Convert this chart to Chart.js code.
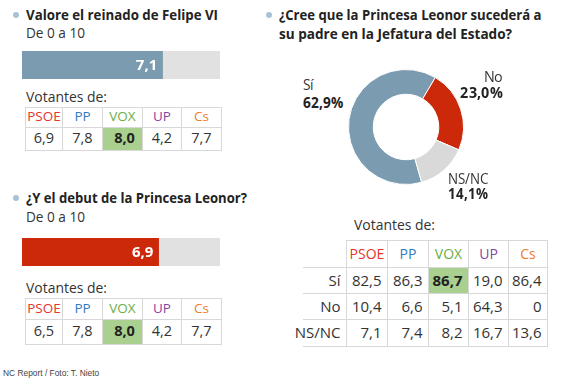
<!DOCTYPE html>
<html><head><meta charset="utf-8">
<script src="https://cdn.jsdelivr.net/npm/chart.js@4.4.0/dist/chart.umd.min.js"></script>
<style>
@font-face{font-family:"OSLabel";src:local("Open Sans"),local("OpenSans-Regular"),local("Open Sans Regular");font-weight:400;ascent-override:78%;descent-override:18%;line-gap-override:0%;}
@font-face{font-family:"OSLabel";src:local("Open Sans Bold"),local("OpenSans-Bold");font-weight:700;ascent-override:78%;descent-override:18%;line-gap-override:0%;}
html,body{margin:0;padding:0;background:#fff;}
#root{position:relative;width:580px;height:381px;overflow:hidden;font-family:"Open Sans",sans-serif;color:#222;}
.t{position:absolute;white-space:nowrap;}
.t b{color:#222;}
.lbl{font-family:"OSLabel","Open Sans",sans-serif;}
canvas{position:absolute;}
</style></head><body><div id="root"></div>
<script>
// ---------- DATA ----------
const ratingTitles = ['Valore el reinado de Felipe VI', '¿Y el debut de la Princesa Leonor?'];
const ratingSubtitle = 'De 0 a 10';
const ratingValues = [7.1, 6.9];
const ratingMax = 10;
const parties = ['PSOE', 'PP', 'VOX', 'UP', 'Cs'];
const felipeByParty = [6.9, 7.8, 8.0, 4.2, 7.7];
const leonorByParty = [6.5, 7.8, 8.0, 4.2, 7.7];
const successionTitle = ['¿Cree que la Princesa Leonor sucederá a', 'su padre en la Jefatura del Estado?'];
const successionCategories = ['Sí', 'No', 'NS/NC'];
const successionValues = [62.9, 23.0, 14.1];
const successionSi = [82.5, 86.3, 86.7, 19.0, 86.4];
const successionNo = [10.4, 6.6, 5.1, 64.3, 0];
const successionNsnc = [7.1, 7.4, 8.2, 16.7, 13.6];
const votersLabel = 'Votantes de:';
const sourceText = 'NC Report / Foto: T. Nieto';

// ---------- STYLES ----------
const partyColors = ['#e4352c', '#2f7bc2', '#6cae45', '#85459f', '#f07c2c'];
const ratingColors = ['#7b9bb0', '#cc290b'];
const donutColors = ['#7b9bb0', '#cc290b', '#d9d9d9'];
const trackColor = '#e1e1e1';
const highlightColor = '#a9d08e';
const gridColor = '#d8d8d8';
const bulletColor = '#a9c2d3';

const root = document.getElementById('root');
const fmt = v => v === 0 ? '0' : v.toFixed(1).replace('.', ',');
const pct = v => v.toFixed(1).replace('.', ',') + '%';

function place(el, x, w, o) {
  const fw = o.w || w;
  const k = fw / w;
  const a = o.align || 'left';
  const left = a === 'left' ? x : a === 'right' ? x - fw : x - fw / 2;
  el.style.left = left + 'px';
  el.style.transformOrigin = '0 50%';
  if (Math.abs(k - 1) > 0.001) el.style.transform = 'scaleX(' + k + ')';
}
function T(text, x, cy, o = {}) {
  const el = document.createElement('div');
  el.className = 't';
  el.textContent = text;
  const size = o.size || 15;
  el.style.fontSize = size + 'px';
  el.style.lineHeight = size + 'px';
  el.style.fontWeight = o.bold ? '700' : '400';
  el.style.color = o.color || '#333';
  if (o.family) el.style.fontFamily = o.family;
  el.style.top = (cy - size * (o.cf || 0.53)) + 'px';
  el.style.left = '0px';
  root.appendChild(el);
  place(el, x, el.getBoundingClientRect().width, o);
  return el;
}
// two-line label (regular name + bold value), compact line metrics
function T2(name, value, x, cy1, lh, o = {}) {
  const el = document.createElement('div');
  el.className = 't lbl';
  const size = o.size || 15;
  el.style.fontSize = size + 'px';
  el.style.lineHeight = lh + 'px';
  el.style.color = '#333';
  el.style.textAlign = o.align === 'right' ? 'right' : 'left';
  el.appendChild(document.createTextNode(name));
  el.appendChild(document.createElement('br'));
  const b = document.createElement('b');
  b.textContent = value;
  el.appendChild(b);
  el.style.top = (cy1 - lh / 2 + 0.057 * size) + 'px';
  el.style.left = '0px';
  root.appendChild(el);
  place(el, x, el.getBoundingClientRect().width, o);
  return el;
}
function box(x0, y0, x1, y1, o = {}) {
  const d = document.createElement('div');
  d.style.position = 'absolute';
  d.style.left = x0 + 'px'; d.style.top = y0 + 'px';
  d.style.width = (x1 - x0 + 1) + 'px'; d.style.height = (y1 - y0 + 1) + 'px';
  d.style.boxSizing = 'border-box';
  if (o.sides) {
    o.sides.forEach(s => d.style['border' + s] = '1px solid ' + gridColor);
  } else {
    d.style.border = '1px solid ' + gridColor;
  }
  if (o.bg) d.style.background = o.bg;
  root.appendChild(d);
}
function bullet(x, y) {
  const d = document.createElement('div');
  d.style.cssText = 'position:absolute;width:6px;height:6px;border-radius:50%;background:' + bulletColor + ';left:' + (x - 3) + 'px;top:' + (y - 3) + 'px';
  root.appendChild(d);
}
function canvasAt(x, y, w, h) {
  const c = document.createElement('canvas');
  c.width = w; c.height = h;
  c.style.left = x + 'px'; c.style.top = y + 'px';
  c.style.width = w + 'px'; c.style.height = h + 'px';
  root.appendChild(c);
  return c;
}

// ---------- BAR CHARTS ----------
const trackPlugin = {
  id: 'track',
  beforeDatasetsDraw(chart) {
    const a = chart.chartArea, ctx = chart.ctx;
    ctx.save(); ctx.fillStyle = trackColor;
    ctx.fillRect(a.left, a.top, a.right - a.left, a.bottom - a.top);
    ctx.restore();
  }
};
const valueLabelPlugin = {
  id: 'valueLabel',
  afterDatasetsDraw(chart) {
    const ctx = chart.ctx;
    const bar = chart.getDatasetMeta(0).data[0];
    const v = chart.data.datasets[0].data[0];
    ctx.save();
    ctx.fillStyle = '#fff';
    ctx.font = 'bold 15px "Open Sans"';
    ctx.textAlign = 'center';
    ctx.textBaseline = 'middle';
    ctx.fillText(fmt(v), bar.x - 16, bar.y + 1);
    ctx.restore();
  }
};
function ratingBar(x, y, w, h, value, color) {
  const c = canvasAt(x, y, w, h);
  new Chart(c, {
    type: 'bar',
    data: { labels: [''], datasets: [{ data: [value], backgroundColor: color, borderWidth: 0, barPercentage: 1, categoryPercentage: 1 }] },
    options: {
      indexAxis: 'y', responsive: false, animation: false, events: [],
      layout: { padding: 0 },
      scales: { x: { display: false, min: 0, max: ratingMax }, y: { display: false } },
      plugins: { legend: { display: false }, tooltip: { enabled: false } }
    },
    plugins: [trackPlugin, valueLabelPlugin]
  });
}

function partyTable(colX, rowY, values) {
  const hi = values.indexOf(Math.max(...values));
  parties.forEach((p, i) => {
    box(colX[i], rowY[0], colX[i + 1], rowY[1]);
    box(colX[i], rowY[1], colX[i + 1], rowY[2], i === hi ? { bg: highlightColor } : {});
    const cx = (colX[i] + colX[i + 1]) / 2;
    T(p, cx + 0.5, (rowY[0] + rowY[1]) / 2 + 0.5, { size: 13.5, color: partyColors[i], align: 'center' });
    T(fmt(values[i]), cx + (i === hi ? 2.5 : 0.5), (rowY[1] + rowY[2]) / 2 + 0.5, { size: 14.5, bold: i === hi, color: i === hi ? '#222' : '#333', align: 'center' });
  });
}

// Section 1
bullet(16, 15);
T(ratingTitles[0], 26, 15, { size: 15, bold: true, color: '#222', w: 192 });
T(ratingSubtitle, 26, 33.5, { size: 14, w: 59 });
ratingBar(22, 51, 198, 28, ratingValues[0], ratingColors[0]);
T(votersLabel, 26, 97, { size: 15, w: 81 });
partyTable([25, 62, 102, 142, 181, 221], [107, 127, 150], felipeByParty);

// Section 2
bullet(16, 198);
T(ratingTitles[1], 26, 198, { size: 15, bold: true, color: '#222', w: 221 });
T(ratingSubtitle, 26, 217, { size: 14, w: 59 });
ratingBar(22, 238, 198, 28, ratingValues[1], ratingColors[1]);
T(votersLabel, 26, 288, { size: 15, w: 81 });
partyTable([25, 62, 102, 142, 181, 221], [298, 319, 344], leonorByParty);

// Section 3: doughnut
bullet(269, 15);
T(successionTitle[0], 278.5, 15, { size: 15, bold: true, color: '#222', w: 262.5 });
T(successionTitle[1], 278.5, 33.5, { size: 15, bold: true, color: '#222', w: 233 });

const dc = canvasAt(348, 69, 116, 116);
new Chart(dc, {
  type: 'doughnut',
  data: { labels: successionCategories, datasets: [{ data: successionValues, backgroundColor: donutColors, borderColor: '#fff', borderWidth: 1 }] },
  options: {
    responsive: false, animation: false, events: [],
    rotation: 164.2, cutout: '57%',
    layout: { padding: 0 },
    plugins: { legend: { display: false }, tooltip: { enabled: false } }
  }
});
T2(successionCategories[0], pct(successionValues[0]), 302.5, 85, 18, { size: 15, w: 41 });
T2(successionCategories[1], pct(successionValues[1]), 503, 77.5, 16, { size: 15, align: 'right', w: 43 });
T2(successionCategories[2], pct(successionValues[2]), 488, 178.5, 15, { size: 15, align: 'right', w: 40 });

// Right table
T(votersLabel, 354, 225, { size: 15, w: 81 });
const rcx = [346, 387, 428, 468, 508, 547];
const rry = [240, 267, 293, 319, 346];
const rows = [successionSi, successionNo, successionNsnc];
const hiSi = successionSi.indexOf(Math.max(...successionSi));
parties.forEach((p, i) => {
  box(rcx[i], rry[0], rcx[i + 1], rry[1]);
  T(p, (rcx[i] + rcx[i + 1]) / 2 + 0.5, (rry[0] + rry[1]) / 2 + 0.5, { size: 14, color: partyColors[i], align: 'center' });
});
rows.forEach((r, ri) => {
  const y0 = rry[ri + 1], y1 = rry[ri + 2];
  box(303, y0, rcx[0], y1, { sides: ['Top', 'Bottom'] });
  T(successionCategories[ri], 340.5, (y0 + y1) / 2 + 0.5, { size: 15, align: 'right' });
  r.forEach((v, i) => {
    const hl = ri === 0 && i === hiSi;
    box(rcx[i], y0, rcx[i + 1], y1, hl ? { bg: highlightColor } : {});
    T(fmt(v), rcx[i + 1] - 5.5, (y0 + y1) / 2 + 0.5, { size: 15, bold: hl, color: hl ? '#222' : '#333', align: 'right' });
  });
});

// Footer
T(sourceText, 3, 373, { size: 8.4, family: '"Liberation Sans", Arial, sans-serif', color: '#444', cf: 0.49 });
</script></body></html>
